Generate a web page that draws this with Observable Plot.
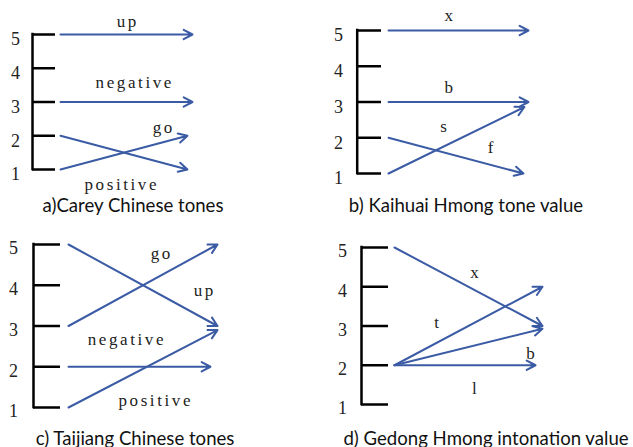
<!DOCTYPE html>
<html><head><meta charset="utf-8">
<script src="https://cdn.jsdelivr.net/npm/d3@7"></script>
<script src="https://cdn.jsdelivr.net/npm/@observablehq/plot@0.6"></script>
<style>
body{margin:0;background:#fff;}
#root{position:relative;width:633px;height:447px;overflow:hidden;background:#fff;}
.panel{position:absolute;}
.cap{position:absolute;font-family:Lato,"Open Sans",sans-serif;font-size:18.6px;color:#111;white-space:nowrap;transform:translate(-50%,-50%);line-height:1;}
</style></head><body><div id="root"></div>
<script>
// ---- data ----
const toneLevels = [1, 2, 3, 4, 5];
const titles = ["a)Carey Chinese tones", "b) Kaihuai Hmong tone value", "c) Taijiang Chinese tones", "d) Gedong Hmong intonation value"];

const aNames = ["up", "negative", "go", "positive"];
const aFrom  = [5, 3, 1, 2];
const aTo    = [5, 3, 2, 1];

const bNames = ["x", "b", "s", "f"];
const bFrom  = [5, 3, 1, 2];
const bTo    = [5, 3, 2.86, 1];

const cNames = ["go", "up", "positive", "negative"];
const cFrom  = [3, 5, 1, 2];
const cTo    = [5, 3, 2.9, 2];

const dNames = ["x", "t", "b", "l"];
const dFrom  = [5, 2, 2, 2];
const dTo    = [3, 4, 2.93, 2];

const series = [[aNames, aFrom, aTo], [bNames, bFrom, bTo], [cNames, cFrom, cTo], [dNames, dFrom, dTo]];

// ---- layout (pixels / label anchors) ----
const layout = [
  {left: 0, top: 0, w: 316, h: 195, axisX: 32, tickX: 55, startX: 60, endX: 192, y1: 169, y5: 34, numX: 15, numDy: 5,
   ends: [1, 1, 0.962, 0.962], labels: [[0.5, 5.385], [0.553, 3.58], [0.773, 2.244], [0.4545, 0.556]], cap: [133, 205]},
  {left: 320, top: 0, w: 313, h: 195, axisX: 36.7, tickX: 61, startX: 68, endX: 208, y1: 173, y5: 30, numX: 18, numDy: 5,
   ends: [1, 1, 0.971, 0.964], labels: [[0.43, 5.42], [0.43, 3.41], [0.393, 2.31], [0.729, 1.73]], cap: [466, 205]},
  {left: 0, top: 225, w: 316, h: 222, axisX: 33, tickX: 60, startX: 68, endX: 217, y1: 182, y5: 19, numX: 13, numDy: 4,
   ends: [1, 1, 1, 0.953], labels: [[0.617, 4.78], [0.906, 3.87], [0.577, 1.17], [0.383, 2.67]], cap: [135, 438]},
  {left: 320, top: 225, w: 313, h: 222, axisX: 41, tickX: 68, startX: 74, endX: 222, y1: 179, y5: 22, numX: 22, numDy: 4,
   ends: [1, 1, 1, 0.953], labels: [[0.54, 4.36], [0.284, 3.09], [0.919, 2.30], [0.54, 1.41]], cap: [486, 438]}
];

const blue = "#3b5ba5";
const root = document.getElementById("root");

layout.forEach((L, i) => {
  const [names, from, to] = series[i];
  const arrows = names.map((n, k) => ({name: n, from: from[k], to: to[k], start: 0, end: L.ends[k], lx: L.labels[k][0], ly: L.labels[k][1]}));
  const fx = p => (p - L.startX) / (L.endX - L.startX);
  const axisV = fx(L.axisX), tickV = fx(L.tickX), numV = fx(L.numX);
  const plot = Plot.plot({
    width: L.w, height: L.h, margin: 0,
    style: {background: "transparent", overflow: "visible"},
    x: {type: "linear", domain: [0, 1], range: [L.startX, L.endX], axis: null},
    y: {type: "linear", domain: [1, 5], range: [L.y1, L.y5], axis: null},
    marks: [
      Plot.ruleX([axisV], {x: d => d, y1: 1, y2: 5, stroke: "#000", strokeWidth: 2.5, strokeLinecap: "square"}),
      Plot.ruleY(toneLevels, {y: d => d, x1: () => axisV, x2: () => tickV, stroke: "#000", strokeWidth: 2.5}),
      Plot.text(toneLevels, {x: () => numV, y: d => d, text: d => String(d), dy: L.numDy, fontFamily: "Liberation Serif", fontSize: 18, fill: "#222"}),
      Plot.arrow(arrows, {x1: "start", y1: "from", x2: "end", y2: "to", stroke: blue, strokeWidth: 2, headLength: 7.5, headAngle: 56}),
      Plot.text(arrows, {x: "lx", y: "ly", text: "name", fontFamily: "Liberation Serif", fontSize: 17, fill: "#222"})
    ]
  });
  const textGroups = plot.querySelectorAll('g[aria-label="text"]');
  const lbl = textGroups[textGroups.length - 1];
  lbl.setAttribute("letter-spacing", "2.6px");
  lbl.querySelectorAll("text").forEach(t => t.setAttribute("dx", "1.3"));
  const div = document.createElement("div");
  div.className = "panel";
  div.style.left = L.left + "px";
  div.style.top = L.top + "px";
  div.style.width = L.w + "px";
  div.style.height = L.h + "px";
  div.appendChild(plot);
  root.appendChild(div);
  const cap = document.createElement("div");
  cap.className = "cap";
  cap.style.left = L.cap[0] + "px";
  cap.style.top = L.cap[1] + "px";
  cap.textContent = titles[i];
  root.appendChild(cap);
});
</script>
</body></html>
